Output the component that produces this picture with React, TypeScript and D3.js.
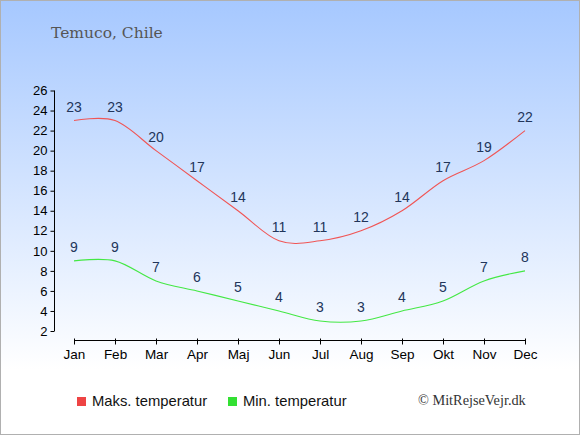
import React, { useEffect, useRef } from 'react';
import * as d3 from 'd3';

const months = ['Jan', 'Feb', 'Mar', 'Apr', 'Maj', 'Jun', 'Jul', 'Aug', 'Sep', 'Okt', 'Nov', 'Dec'];
const maxTemps = [23, 23, 20, 17, 14, 11, 11, 12, 14, 17, 19, 22];
const minTemps = [9, 9, 7, 6, 5, 4, 3, 3, 4, 5, 7, 8];
const yTicks = [2, 4, 6, 8, 10, 12, 14, 16, 18, 20, 22, 24, 26];

const App: React.FC = () => {
  const svgRef = useRef<SVGSVGElement>(null);

  useEffect(() => {
    document.body.style.margin = '0';
    if (!svgRef.current) return;
    const svg = d3.select(svgRef.current);
    svg.selectAll('*').remove();

    const width = 580;
    const height = 435;

    // background gradient
    const defs = svg.append('defs');
    const grad = defs.append('linearGradient')
      .attr('id', 'bg')
      .attr('x1', 0).attr('y1', 0).attr('x2', 0).attr('y2', 1);
    grad.append('stop').attr('offset', '0%').attr('stop-color', '#a6c8ff');
    grad.append('stop').attr('offset', '85%').attr('stop-color', '#ffffff');
    grad.append('stop').attr('offset', '100%').attr('stop-color', '#ffffff');

    svg.append('rect')
      .attr('x', 0.5).attr('y', 0.5)
      .attr('width', width - 1).attr('height', height - 1)
      .attr('fill', 'url(#bg)')
      .attr('stroke', '#b0b0b0')
      .attr('stroke-width', 1);

    const x = d3.scalePoint<string>().domain(months).range([74, 525]);
    const y = d3.scaleLinear().domain([2, 26]).range([331, 90.5]);

    // title
    svg.append('text')
      .attr('x', 51).attr('y', 38)
      .text('Temuco, Chile')
      .style('font-family', '"DejaVu Serif", serif')
      .style('font-size', '15.5px')
      .style('fill', '#555555');

    // y axis
    const yAxis = svg.append('g')
      .attr('transform', 'translate(54.5,0)')
      .call(d3.axisLeft(y).tickValues(yTicks).tickSize(4).tickPadding(3));
    yAxis.select('.domain').attr('stroke', '#000').attr('d', `M0,${y(26)}V${y(2)}`);
    yAxis.selectAll('text')
      .style('font-family', '"Liberation Sans", Arial, sans-serif')
      .style('font-size', '13px')
      .style('fill', '#000');

    // x axis
    const xAxis = svg.append('g')
      .attr('transform', 'translate(0,340.5)')
      .call(d3.axisBottom(x).tickSize(4).tickPadding(5));
    xAxis.select('.domain').attr('d', `M${x('Jan')},0H${x('Dec')}`);
    xAxis.selectAll('.tick line').attr('y1', -2);
    xAxis.selectAll('text')
      .style('font-family', '"Liberation Sans", Arial, sans-serif')
      .style('font-size', '13.5px')
      .style('fill', '#000');

    const line = d3.line<number>()
      .x((d, i) => x(months[i])!)
      .y(d => y(d))
      .curve(d3.curveCatmullRom.alpha(0));

    const series = [
      { values: maxTemps, color: '#f05555' },
      { values: minTemps, color: '#44e844' }
    ];

    series.forEach(s => {
      svg.append('path')
        .datum(s.values)
        .attr('d', line)
        .attr('fill', 'none')
        .attr('stroke', s.color)
        .attr('stroke-width', 1.1);

      svg.append('g')
        .selectAll('text')
        .data(s.values)
        .enter()
        .append('text')
        .attr('x', (d, i) => x(months[i])!)
        .attr('y', d => y(d) - 9)
        .attr('text-anchor', 'middle')
        .text(d => d)
        .style('font-family', '"Liberation Sans", Arial, sans-serif')
        .style('font-size', '14px')
        .style('fill', '#22355a');
    });

    // legend
    const legend = [
      { label: 'Maks. temperatur', color: '#ee4444', x: 77 },
      { label: 'Min. temperatur', color: '#33e033', x: 228 }
    ];
    legend.forEach(l => {
      svg.append('rect')
        .attr('x', l.x).attr('y', 397)
        .attr('width', 9).attr('height', 9)
        .attr('fill', l.color);
      svg.append('text')
        .attr('x', l.x + 15).attr('y', 406)
        .text(l.label)
        .style('font-family', '"Liberation Sans", Arial, sans-serif')
        .style('font-size', '14.8px')
        .style('fill', '#111');
    });

    svg.append('text')
      .attr('x', 418).attr('y', 405)
      .text('© MitRejseVejr.dk')
      .style('font-family', '"Liberation Serif", serif')
      .style('font-size', '14.3px')
      .style('fill', '#333');
  }, []);

  return <svg ref={svgRef} width={580} height={435} style={{ display: 'block' }} />;
};

export default App;
